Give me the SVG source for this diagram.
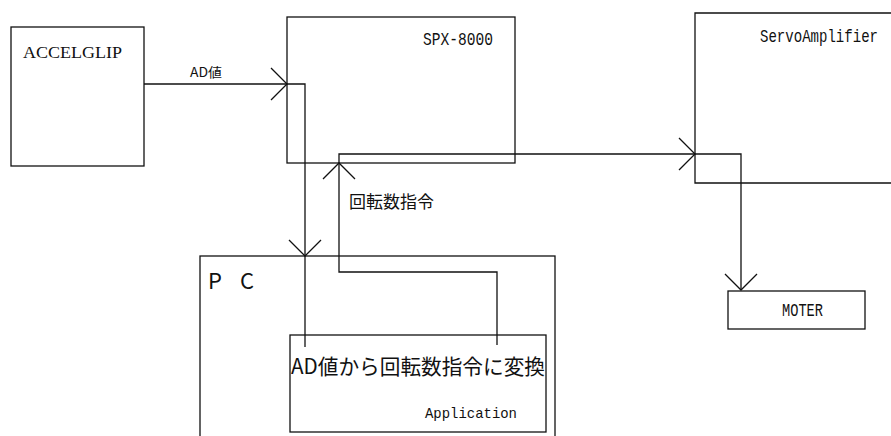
<svg xmlns="http://www.w3.org/2000/svg" width="891" height="436" viewBox="0 0 891 436">
<style>
.box{fill:none;stroke:#111;stroke-width:1.3}
.ln{fill:none;stroke:#111;stroke-width:1.3}
.mono{font-family:"Liberation Mono","DejaVu Sans Mono",monospace;fill:#111}
.jp{font-family:"Noto Sans CJK JP","Liberation Sans",sans-serif;fill:#111}
.serif{font-family:"Liberation Serif",serif;fill:#111}
</style>
<defs>
<marker id="v" markerUnits="userSpaceOnUse" markerWidth="40" markerHeight="40" viewBox="-20 -20 40 40" refX="0" refY="0" orient="auto" overflow="visible">
<path d="M-16,-16 L0,0 L-16,16" fill="none" stroke="#111" stroke-width="1.3"/>
</marker>
</defs>
<rect width="891" height="436" fill="#fff"/>
<g id="accelglip">
<rect class="box" x="11" y="27" width="133" height="139"/>
<text class="serif" x="23" y="58" font-size="17" textLength="99" lengthAdjust="spacingAndGlyphs">ACCELGLIP</text>
</g>
<g id="spx8000">
<rect class="box" x="287" y="17" width="228" height="146"/>
<text class="mono" x="423" y="45" font-size="18" textLength="70" lengthAdjust="spacingAndGlyphs">SPX-8000</text>
</g>
<g id="servoamplifier">
<path class="box" d="M891,13 H695 V183 H891"/>
<text class="mono" x="760" y="42" font-size="18" textLength="118" lengthAdjust="spacingAndGlyphs">ServoAmplifier</text>
</g>
<g id="moter">
<rect class="box" x="728" y="291" width="137" height="38"/>
<text class="mono" x="782" y="316" font-size="18" textLength="41" lengthAdjust="spacingAndGlyphs">MOTER</text>
</g>
<g id="pc">
<rect class="box" x="200" y="256" width="355" height="200"/>
<text class="jp" x="208" y="289" font-size="22" textLength="46" lengthAdjust="spacing">P C</text>
</g>
<g id="application">
<rect class="box" x="290" y="335" width="256" height="97"/>
<text class="jp" x="291" y="374" font-size="21" textLength="254" lengthAdjust="spacingAndGlyphs">AD値から回転数指令に変換</text>
<text class="mono" x="425" y="418" font-size="15" textLength="92" lengthAdjust="spacingAndGlyphs">Application</text>
</g>
<g id="connectors">
<path class="ln" d="M144,84 H287" marker-end="url(#v)"/>
<text class="jp" x="190" y="77" font-size="13" textLength="32" lengthAdjust="spacingAndGlyphs">AD値</text>
<path class="ln" d="M287,84 H305 V256" marker-end="url(#v)"/>
<path class="ln" d="M305,256 V347"/>
<path class="ln" d="M497,345 V272 H339 V163" marker-end="url(#v)"/>
<text class="jp" x="349" y="208" font-size="17" textLength="85" lengthAdjust="spacingAndGlyphs">回転数指令</text>
<path class="ln" d="M339,163 V154 H695" marker-end="url(#v)"/>
<path class="ln" d="M695,154 H741 V290" marker-end="url(#v)"/>
</g>
</svg>
